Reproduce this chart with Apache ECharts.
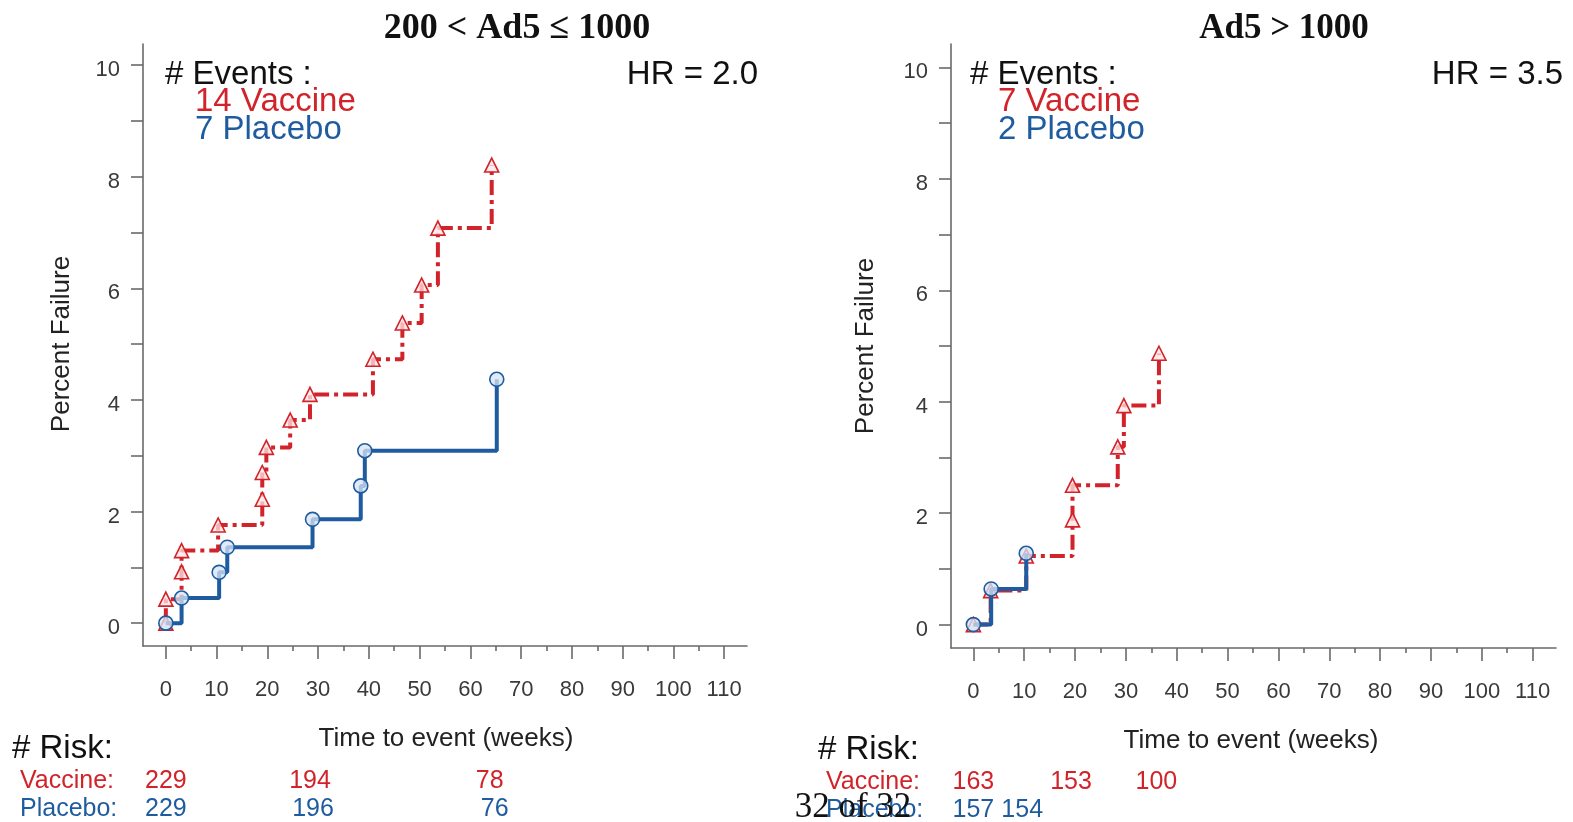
<!DOCTYPE html>
<html><head><meta charset="utf-8">
<script src="https://cdn.jsdelivr.net/npm/echarts@6/dist/echarts.min.js"></script>
<style>html,body{margin:0;padding:0;background:#fff}#c{width:1573px;height:822px}</style>
</head><body><div id="c"></div>
<script>
// ---------- data ----------
const panelTitles = ['200 < Ad5 \u2264 1000', 'Ad5 > 1000'];
const hrLabels = ['HR = 2.0', 'HR = 3.5'];
const eventsVaccine = [14, 7];
const eventsPlacebo = [7, 2];

const xTickValues = [0, 10, 20, 30, 40, 50, 60, 70, 80, 90, 100, 110];
const xMinorTickValues = [5, 15, 25, 35, 45, 55, 65, 75, 85, 95, 105];
const yTickValues = [0, 1, 2, 3, 4, 5, 6, 7, 8, 9, 10];
const yLabelValues = [0, 2, 4, 6, 8, 10];

// left panel (200 < Ad5 <= 1000)
const leftVaccineTimes = [0, 0, 3.1, 3.1, 10.3, 19.0, 19.0, 19.8, 24.5, 28.4, 40.8, 46.6, 50.4, 53.6, 64.2];
const leftVaccinePct   = [0, 0.43, 0.92, 1.30, 1.76, 2.22, 2.70, 3.15, 3.64, 4.10, 4.73, 5.38, 6.06, 7.08, 8.21];
const leftPlaceboTimes = [0, 3.1, 10.5, 12.1, 28.9, 38.4, 39.2, 65.2];
const leftPlaceboPct   = [0, 0.45, 0.91, 1.36, 1.86, 2.46, 3.09, 4.37];

// right panel (Ad5 > 1000)
const rightVaccineTimes = [0, 3.4, 10.4, 19.5, 19.5, 28.4, 29.6, 36.5];
const rightVaccinePct   = [0, 0.61, 1.23, 1.88, 2.50, 3.19, 3.93, 4.87];
const rightPlaceboTimes = [0, 3.5, 10.4];
const rightPlaceboPct   = [0, 0.64, 1.28];

// number at risk
const leftRiskVaccineTimes = [0, 28.4, 63.8];
const leftRiskVaccine = [229, 194, 78];
const leftRiskPlaceboTimes = [0, 29.0, 64.8];
const leftRiskPlacebo = [229, 196, 76];
const rightRiskVaccineTimes = [0, 19.2, 36.0];
const rightRiskVaccine = [163, 153, 100];
const rightRiskPlaceboTimes = [0, 9.6];
const rightRiskPlacebo = [157, 154];

const footerText = '32 of 32';

// ---------- styles ----------
const RED = '#d2232a';
const BLUE = '#1f5c9f';
const AXIS = '#6a6a6a';
const SANS = 'Liberation Sans, Arial, sans-serif';
const SERIF = 'Liberation Serif, Times New Roman, serif';

const chart = echarts.init(document.getElementById('c'), null, {renderer: 'canvas'});

const grids = [
  {left: 143, top: 44, width: 604, height: 602},
  {left: 951, top: 44, width: 605, height: 604}
];
const xRanges = [[-4.5, 114.5], [-4.4, 114.6]];
const yRanges = [[-0.41, 10.38], [-0.42, 10.42]];

function mainX(g) {
  return {
    type: 'value', gridIndex: g, min: xRanges[g][0], max: xRanges[g][1], position: 'bottom',
    axisLine: {show: true, onZero: false, lineStyle: {color: AXIS, width: 1.6}},
    axisTick: {show: true, customValues: xTickValues, length: 13, lineStyle: {color: AXIS, width: 1.6}},
    axisLabel: {show: true, customValues: xTickValues, margin: 33, fontSize: 22, color: '#3a3a3a', fontFamily: SANS},
    splitLine: {show: false}
  };
}
function minorX(g) {
  return {
    type: 'value', gridIndex: g, min: xRanges[g][0], max: xRanges[g][1], position: 'bottom',
    axisLine: {show: false, onZero: false},
    axisTick: {show: true, customValues: xMinorTickValues, length: 5, lineStyle: {color: AXIS, width: 1.6}},
    axisLabel: {show: false},
    splitLine: {show: false}
  };
}
function mainY(g) {
  return {
    type: 'value', gridIndex: g, min: yRanges[g][0], max: yRanges[g][1], position: 'left',
    axisLine: {show: true, onZero: false, lineStyle: {color: AXIS, width: 1.6}},
    axisTick: {show: true, customValues: yTickValues, length: 12, lineStyle: {color: AXIS, width: 1.6}},
    axisLabel: {show: false},
    splitLine: {show: false}
  };
}

function km(xIdx, yIdx, times, pct, color, dashed, symbol, fill, z) {
  return {
    type: 'line', xAxisIndex: xIdx, yAxisIndex: yIdx, step: 'end',
    data: times.map((t, i) => [t, pct[i]]),
    symbol: symbol, symbolSize: 14, showAllSymbol: true, z: z,
    lineStyle: {color: color, width: 4, type: dashed ? [15, 5, 4, 5] : 'solid'},
    itemStyle: {color: fill, borderColor: color, borderWidth: 1.6},
    animation: false, silent: true
  };
}

chart.setOption({
  animation: false,
  grid: grids,
  xAxis: [mainX(0), minorX(0), mainX(1), minorX(1)],
  yAxis: [mainY(0), mainY(1)],
  series: [
    km(0, 0, leftVaccineTimes, leftVaccinePct, RED, true, 'triangle', 'rgba(255,228,228,0.75)', 2),
    km(0, 0, leftPlaceboTimes, leftPlaceboPct, BLUE, false, 'circle', 'rgba(215,228,245,0.75)', 3),
    km(2, 1, rightVaccineTimes, rightVaccinePct, RED, true, 'triangle', 'rgba(255,228,228,0.75)', 2),
    km(2, 1, rightPlaceboTimes, rightPlaceboPct, BLUE, false, 'circle', 'rgba(215,228,245,0.75)', 3)
  ]
});

function txt(x, y, text, opts) {
  return {
    type: 'text', x: x, y: y, rotation: (opts && opts.rotation) || 0, silent: true,
    style: Object.assign({text: text, fill: '#111', font: '33px ' + SANS, textAlign: 'left', textVerticalAlign: 'middle'}, opts && opts.style)
  };
}

const g = [];
// y tick labels (placed from the y axes' own scales)
for (let p = 0; p < 2; p++) {
  yLabelValues.forEach(v => {
    const py = chart.convertToPixel({yAxisIndex: p}, v);
    g.push(txt(grids[p].left - 23, py + 5, String(v), {style: {font: '22px ' + SANS, fill: '#3a3a3a', textAlign: 'right'}}));
  });
}
// titles
g.push(txt(517, 29, panelTitles[0], {style: {font: 'bold 36px ' + SERIF, textAlign: 'center'}}));
g.push(txt(1284, 29, panelTitles[1], {style: {font: 'bold 35px ' + SERIF, textAlign: 'center'}}));
// events annotation
const evX = [[165, 195], [970, 998]];
for (let p = 0; p < 2; p++) {
  g.push(txt(evX[p][0], 75, '# Events :', {}));
  g.push(txt(evX[p][1], 102, eventsVaccine[p] + ' Vaccine', {style: {fill: RED}}));
  g.push(txt(evX[p][1], 130, eventsPlacebo[p] + ' Placebo', {style: {fill: BLUE}}));
}
g.push(txt(758, 75, hrLabels[0], {style: {textAlign: 'right'}}));
g.push(txt(1563, 75, hrLabels[1], {style: {textAlign: 'right'}}));
// axis titles
g.push(txt(62, 344, 'Percent Failure', {rotation: Math.PI / 2, style: {font: '26px ' + SANS, textAlign: 'center', fill: '#222'}}));
g.push(txt(866, 346, 'Percent Failure', {rotation: Math.PI / 2, style: {font: '26px ' + SANS, textAlign: 'center', fill: '#222'}}));
g.push(txt(446, 739, 'Time to event (weeks)', {style: {font: '26px ' + SANS, textAlign: 'center', fill: '#222'}}));
g.push(txt(1251, 741, 'Time to event (weeks)', {style: {font: '26px ' + SANS, textAlign: 'center', fill: '#222'}}));
// risk table
const riskHeadX = [12, 818];
const riskLabX = [20, 826];
const riskY = [[749, 781, 809], [750, 782, 810]];
const riskSets = [
  [[leftRiskVaccineTimes, leftRiskVaccine], [leftRiskPlaceboTimes, leftRiskPlacebo]],
  [[rightRiskVaccineTimes, rightRiskVaccine], [rightRiskPlaceboTimes, rightRiskPlacebo]]
];
for (let p = 0; p < 2; p++) {
  g.push(txt(riskHeadX[p], riskY[p][0], '# Risk:', {}));
  g.push(txt(riskLabX[p], riskY[p][1], 'Vaccine:', {style: {font: '25px ' + SANS, fill: RED}}));
  g.push(txt(riskLabX[p], riskY[p][2], 'Placebo:', {style: {font: '25px ' + SANS, fill: BLUE}}));
  const axisIdx = p === 0 ? 0 : 2;
  for (let r = 0; r < 2; r++) {
    const [times, vals] = riskSets[p][r];
    times.forEach((t, i) => {
      const px = chart.convertToPixel({xAxisIndex: axisIdx}, t);
      g.push(txt(px, riskY[p][r + 1], String(vals[i]), {style: {font: '25px ' + SANS, fill: r === 0 ? RED : BLUE, textAlign: 'center'}}));
    });
  }
}
// footer overlay
g.push(txt(853, 808, footerText, {style: {font: '35px ' + SERIF, textAlign: 'center', fill: '#111'}}));

chart.setOption({graphic: {elements: g}});
</script>
</body></html>
